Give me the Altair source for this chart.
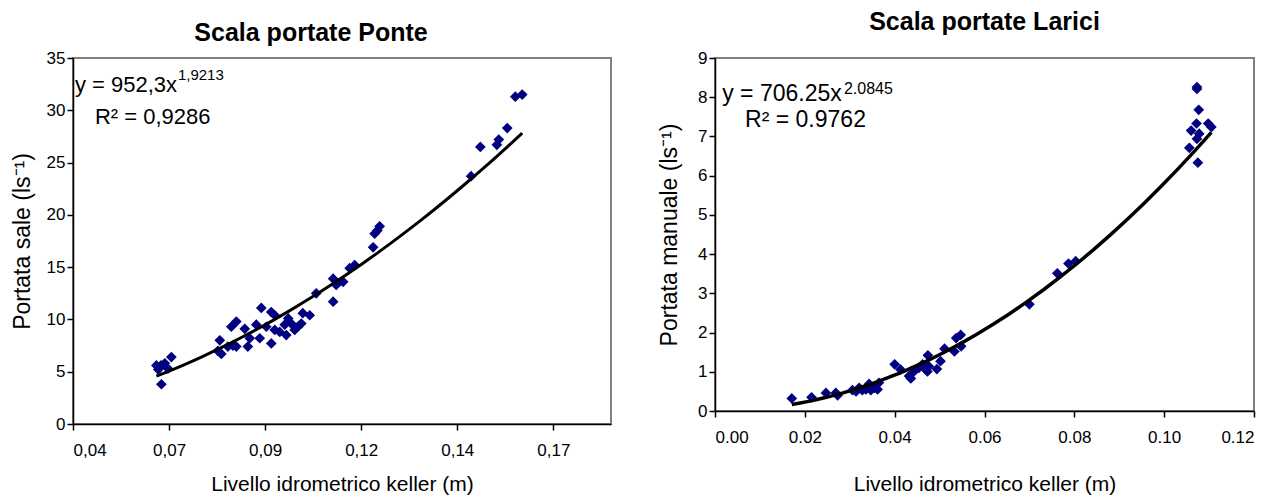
import altair as alt
import pandas as pd

# ---- Left chart: Scala portate Ponte ----
ponte_x = [0.0617, 0.0630, 0.0629, 0.0639, 0.0656, 0.0647, 0.0622,
           0.0782, 0.0777, 0.0786, 0.0812, 0.0825, 0.0803, 0.0816, 0.0825,
           0.0847, 0.0855, 0.0860, 0.0877, 0.0886, 0.0890, 0.0903, 0.0916,
           0.0916, 0.0925, 0.0925, 0.0938, 0.0951, 0.0960, 0.0955, 0.0968,
           0.0977, 0.0985, 0.0994, 0.0998, 0.1016, 0.1033, 0.1077, 0.1077,
           0.1085, 0.1103, 0.1120, 0.1133, 0.1181, 0.1185, 0.1198, 0.1192,
           0.1436, 0.1460, 0.1503, 0.1508, 0.1530, 0.1551, 0.1569]
ponte_y = [5.6, 3.8, 5.6, 5.8, 6.4, 5.3, 5.2,
           8.0, 7.0, 6.7, 9.3, 9.8, 7.4, 7.5, 7.4,
           9.1, 7.4, 8.2, 9.5, 8.2, 11.1, 9.3, 7.7,
           10.7, 10.4, 9.0, 8.8, 9.5, 10.1, 8.5, 9.6,
           9.0, 9.3, 9.6, 10.6, 10.4, 12.5, 11.7, 13.9,
           13.3, 13.6, 14.9, 15.2, 16.9, 18.2, 18.9, 18.5,
           23.7, 26.5, 26.7, 27.2, 28.3, 31.3, 31.5]
ponte_ticks_x = [0.04, 0.065, 0.09, 0.115, 0.14, 0.165]
ponte_ticks_y = [0, 5, 10, 15, 20, 25, 30, 35]

# ---- Right chart: Scala portate Larici ----
larici_x = [0.0171, 0.0215, 0.0247, 0.0269, 0.0273, 0.0306, 0.0314, 0.0321,
            0.0328, 0.0336, 0.0343, 0.0347, 0.0355, 0.0362, 0.0365, 0.0400,
            0.0413, 0.0432, 0.0436, 0.0443, 0.0454, 0.0462, 0.0469, 0.0474,
            0.0476, 0.0473, 0.0494, 0.0502, 0.0511, 0.0533, 0.0537, 0.0547,
            0.0548, 0.0700, 0.0762, 0.0787, 0.0803,
            0.1073, 0.1073, 0.1077, 0.1072, 0.1098, 0.1105, 0.1060, 0.1078,
            0.1073, 0.1056, 0.1075]
larici_y = [0.32, 0.35, 0.46, 0.46, 0.40, 0.53, 0.50, 0.59,
            0.53, 0.55, 0.69, 0.53, 0.59, 0.55, 0.72, 1.19,
            1.06, 0.89, 0.83, 1.01, 1.10, 1.19, 1.06, 1.42,
            1.14, 1.01, 1.07, 1.27, 1.59, 1.52, 1.86, 1.94,
            1.65, 2.72, 3.51, 3.76, 3.82,
            8.26, 8.21, 7.68, 7.33, 7.33, 7.24, 7.15, 7.07,
            6.94, 6.71, 6.33]
larici_ticks_x = [0.0, 0.02, 0.04, 0.06, 0.08, 0.10, 0.12]
larici_ticks_y = [0, 1, 2, 3, 4, 5, 6, 7, 8, 9]

FONT = "Liberation Sans"
NAVY = "#000080"

df_p = pd.DataFrame({"x": ponte_x, "y": ponte_y})
df_l = pd.DataFrame({"x": larici_x, "y": larici_y})
one = pd.DataFrame({"k": [0]})

xs_p = alt.Scale(domain=[0.04, 0.18], nice=False, zero=False)
ys_p = alt.Scale(domain=[0, 35], nice=False)
xs_l = alt.Scale(domain=[0, 0.12], nice=False)
ys_l = alt.Scale(domain=[0, 9], nice=False)

ax_x_p = alt.Axis(values=ponte_ticks_x, title="Livello idrometrico keller (m)",
                  labelExpr="replace(format(datum.value, '.2f'), '.', ',')",
                  labelPadding=12, titlePadding=15, labelOverlap=False)
ax_y_p = alt.Axis(values=ponte_ticks_y, title="Portata sale (ls⁻¹)", titlePadding=12,
                  labelOverlap=False, tickCount=8)
ax_x_l = alt.Axis(values=larici_ticks_x, title="Livello idrometrico keller (m)", format=".2f",
                  labelPadding=12, titlePadding=28, labelOverlap=False)
ax_y_l = alt.Axis(values=larici_ticks_y, title="Portata manuale (ls⁻¹)", titlePadding=16,
                  labelOverlap=False, tickCount=10, format="d")


def label(text, x, y, size, xs, ys, ax, ay):
    return alt.Chart(one).mark_text(align="left", baseline="middle", fontSize=size,
                                    font=FONT, color="black").encode(
        x=alt.X(datum=x, type="quantitative", scale=xs, axis=ax),
        y=alt.Y(datum=y, type="quantitative", scale=ys, axis=ay),
        text=alt.value(text))


base_p = alt.Chart(df_p)
enc_p = dict(x=alt.X("x:Q", scale=xs_p, axis=ax_x_p), y=alt.Y("y:Q", scale=ys_p, axis=ax_y_p))
pts_p = base_p.mark_point(shape="diamond", filled=True, color=NAVY, size=115, opacity=1).encode(**enc_p)
fit_p = base_p.transform_regression("x", "y", method="pow").mark_line(
    color="black", strokeWidth=3).encode(**enc_p)

left = alt.layer(
    pts_p, fit_p,
    label("y = 952,3x", 0.0405, 32.4, 22, xs_p, ys_p, ax_x_p, ax_y_p),
    label("1,9213", 0.0673, 33.4, 15, xs_p, ys_p, ax_x_p, ax_y_p),
    label("R² = 0,9286", 0.0457, 29.4, 22, xs_p, ys_p, ax_x_p, ax_y_p),
).properties(
    width=538, height=366,
    title=alt.TitleParams("Scala portate Ponte", fontSize=25, font=FONT, fontWeight="bold",
                          frame="bounds", anchor="middle", offset=3, color="black"),
)

base_l = alt.Chart(df_l)
enc_l = dict(x=alt.X("x:Q", scale=xs_l, axis=ax_x_l), y=alt.Y("y:Q", scale=ys_l, axis=ax_y_l))
pts_l = base_l.mark_point(shape="diamond", filled=True, color=NAVY, size=115, opacity=1).encode(**enc_l)
fit_l = base_l.transform_regression("x", "y", method="pow").mark_line(
    color="black", strokeWidth=3.5).encode(**enc_l)

right = alt.layer(
    pts_l, fit_l,
    label("y = 706.25x", 0.0016, 8.09, 23, xs_l, ys_l, ax_x_l, ax_y_l),
    label("2.0845", 0.0287, 8.2, 16, xs_l, ys_l, ax_x_l, ax_y_l),
    label("R² = 0.9762", 0.0067, 7.41, 23, xs_l, ys_l, ax_x_l, ax_y_l),
).properties(
    width=539, height=353,
    title=alt.TitleParams("Scala portate Larici", fontSize=25, font=FONT, fontWeight="bold",
                          frame="group", anchor="middle", offset=14, color="black"),
)

chart = alt.hconcat(left, right, spacing=104, bounds="flush").properties(
    padding={"left": 10, "top": 9, "right": 0, "bottom": 0},
    background="white",
).configure_view(
    stroke="#808080", strokeWidth=2
).configure_axis(
    grid=False, domainColor="black", domainWidth=1.5, tickColor="black", tickWidth=1.5,
    tickSize=6, labelFont=FONT, labelFontSize=17, labelColor="black",
    titleFont=FONT, titleFontWeight="normal", titleColor="black",
).configure_axisX(
    titleFontSize=21
).configure_axisY(
    titleFontSize=23
)

chart.save("out.html", embed_options={"renderer": "svg", "actions": False})
